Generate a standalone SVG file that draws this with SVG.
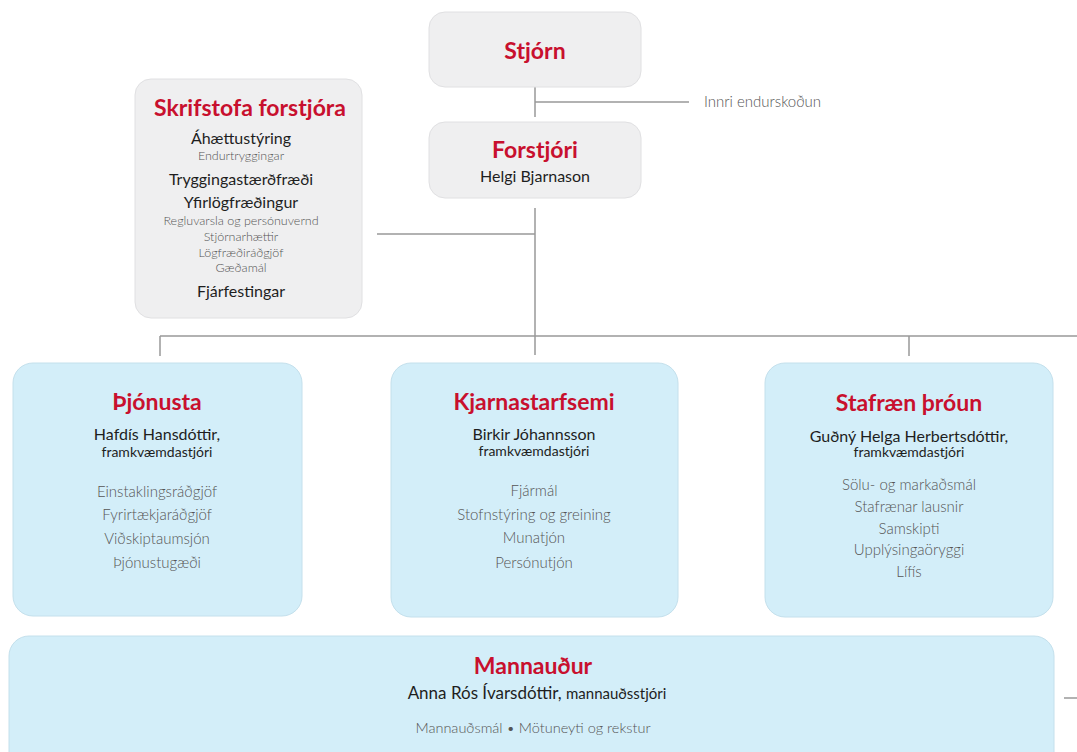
<svg xmlns="http://www.w3.org/2000/svg" width="1077" height="752" viewBox="0 0 1077 752">
<style>
text{font-family:Lato,"Open Sans","Liberation Sans",sans-serif;text-anchor:middle}
.gbox{fill:#efeff0;stroke:#e0e0e2;stroke-width:1}
.bbox{fill:#d3eef9;stroke:#c4e0ec;stroke-width:1}
.title{fill:#c8102e;font-weight:700;font-size:23px}
.name{fill:#1e1e1e;font-size:16px;font-weight:400}
.role{fill:#1e1e1e;font-size:14px;font-weight:400}
.item{fill:#555;font-size:15px;font-weight:300}
.sub{fill:#555;font-size:12.5px;font-weight:300}
.ln{stroke:#999;stroke-width:1.5;fill:none}
</style>
<g id="connectors">
<path class="ln" d="M535 87V117M535 102H689"/>
<path class="ln" d="M535 208V355M377 234H535"/>
<path class="ln" d="M160 336H1077M160 336V356M909 336V356"/>
<path class="ln" d="M1064 698H1077"/>
</g>
<g id="stjorn">
<rect class="gbox" x="429" y="12" width="212" height="75" rx="16"/>
<text class="title" x="535" y="59">Stjórn</text>
</g>
<g id="innri">
<text class="item" x="704" y="107" style="text-anchor:start">Innri endurskoðun</text>
</g>
<g id="forstjori">
<rect class="gbox" x="429" y="122" width="212" height="76" rx="16"/>
<text class="title" x="535" y="158">Forstjóri</text>
<text class="name" x="535" y="182">Helgi Bjarnason</text>
</g>
<g id="skrifstofa">
<rect class="gbox" x="135" y="79" width="227" height="239" rx="16"/>
<text class="title" x="250" y="116">Skrifstofa forstjóra</text>
<text class="name" x="241" y="144">Áhættustýring</text>
<text class="sub" x="241" y="160">Endurtryggingar</text>
<text class="name" x="241" y="185">Tryggingastærðfræði</text>
<text class="name" x="241" y="208">Yfirlögfræðingur</text>
<text class="sub" x="241" y="225">Regluvarsla og persónuvernd</text>
<text class="sub" x="241" y="241">Stjórnarhættir</text>
<text class="sub" x="241" y="257">Lögfræðiráðgjöf</text>
<text class="sub" x="241" y="272">Gæðamál</text>
<text class="name" x="241" y="297">Fjárfestingar</text>
</g>
<g id="thjonusta">
<rect class="bbox" x="13" y="363" width="289" height="253" rx="20"/>
<text class="title" x="157" y="410">Þjónusta</text>
<text class="name" x="157" y="440">Hafdís Hansdóttir,</text>
<text class="role" x="157" y="457">framkvæmdastjóri</text>
<text class="item" x="157" y="497">Einstaklingsráðgjöf</text>
<text class="item" x="157" y="520">Fyrirtækjaráðgjöf</text>
<text class="item" x="157" y="544">Viðskiptaumsjón</text>
<text class="item" x="157" y="568">Þjónustugæði</text>
</g>
<g id="kjarnastarfsemi">
<rect class="bbox" x="391" y="363" width="287" height="254" rx="20"/>
<text class="title" x="534" y="410">Kjarnastarfsemi</text>
<text class="name" x="534" y="440">Birkir Jóhannsson</text>
<text class="role" x="534" y="456">framkvæmdastjóri</text>
<text class="item" x="534" y="496">Fjármál</text>
<text class="item" x="534" y="520">Stofnstýring og greining</text>
<text class="item" x="534" y="543">Munatjón</text>
<text class="item" x="534" y="568">Persónutjón</text>
</g>
<g id="stafraen">
<rect class="bbox" x="765" y="363" width="288" height="254" rx="20"/>
<text class="title" x="909" y="411">Stafræn þróun</text>
<text class="name" x="909" y="442">Guðný Helga Herbertsdóttir,</text>
<text class="role" x="909" y="457">framkvæmdastjóri</text>
<text class="item" x="909" y="490">Sölu- og markaðsmál</text>
<text class="item" x="909" y="512">Stafrænar lausnir</text>
<text class="item" x="909" y="534">Samskipti</text>
<text class="item" x="909" y="555">Upplýsingaöryggi</text>
<text class="item" x="909" y="577">Lífís</text>
</g>
<g id="mannaudur">
<rect class="bbox" x="9" y="636" width="1045" height="140" rx="20"/>
<text class="title" x="533" y="674">Mannauður</text>
<text x="537" y="699"><tspan class="name" style="font-size:17px">Anna Rós Ívarsdóttir, </tspan><tspan class="role" style="font-size:15px">mannauðsstjóri</tspan></text>
<text class="item" x="533" y="733" style="font-size:14.5px">Mannauðsmál • Mötuneyti og rekstur</text>
</g>
</svg>
